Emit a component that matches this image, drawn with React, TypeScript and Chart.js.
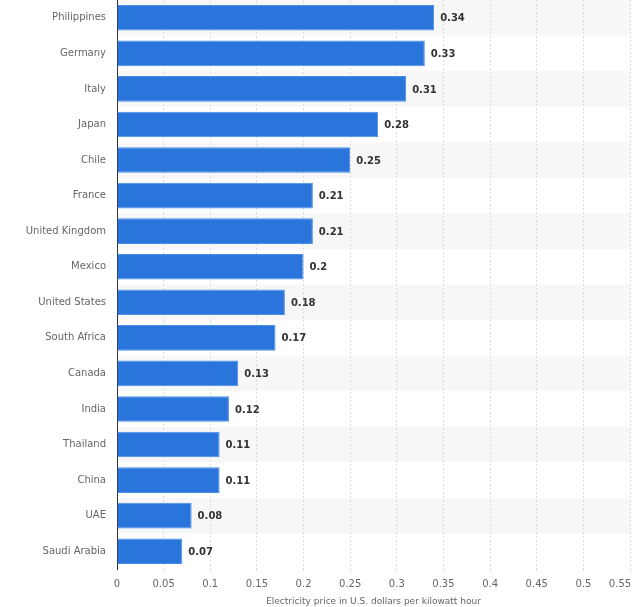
import React, { useEffect, useRef } from "react";
import { Chart, registerables } from "chart.js";

Chart.register(...registerables);

const countries = [
  "Philippines", "Germany", "Italy", "Japan", "Chile", "France", "United Kingdom", "Mexico",
  "United States", "South Africa", "Canada", "India", "Thailand", "China", "UAE", "Saudi Arabia",
];
const prices = [0.34, 0.33, 0.31, 0.28, 0.25, 0.21, 0.21, 0.2, 0.18, 0.17, 0.13, 0.12, 0.11, 0.11, 0.08, 0.07];
const xTicks = [0, 0.05, 0.1, 0.15, 0.2, 0.25, 0.3, 0.35, 0.4, 0.45, 0.5, 0.55];
const axisTitle = "Electricity price in U.S. dollars per kilowatt hour";

const FONT = "'DejaVu Sans', sans-serif";

const bandsPlugin = {
  id: "bands",
  beforeDraw(chart: any) {
    const { ctx, chartArea } = chart;
    const y = chart.scales.y;
    ctx.save();
    ctx.fillStyle = "#f7f7f7";
    const n = countries.length;
    const h = (chartArea.bottom - chartArea.top) / n;
    for (let i = 0; i < n; i += 2) {
      const c = y.getPixelForValue(i);
      ctx.fillRect(chartArea.left, c - h / 2, chartArea.right - chartArea.left, h);
    }
    ctx.restore();
  },
};

const labelsPlugin = {
  id: "valueLabels",
  afterDatasetsDraw(chart: any) {
    const { ctx } = chart;
    const meta = chart.getDatasetMeta(0);
    ctx.save();
    ctx.font = `bold 10px ${FONT}`;
    ctx.fillStyle = "#333333";
    ctx.textAlign = "left";
    ctx.textBaseline = "middle";
    meta.data.forEach((bar: any, i: number) => {
      ctx.fillText(String(prices[i]), bar.x + 6, bar.y + 1);
    });
    ctx.restore();
  },
};

export default function App() {
  const ref = useRef<HTMLCanvasElement>(null);
  useEffect(() => {
    if (!ref.current) return;
    const chart = new Chart(ref.current, {
      type: "bar",
      data: {
        labels: countries,
        datasets: [
          {
            data: prices,
            backgroundColor: "#2a75dc",
            borderColor: "#4a8ee8",
            borderWidth: 1,
            barPercentage: 0.72,
            categoryPercentage: 1,
          },
        ],
      },
      options: {
        indexAxis: "y",
        animation: false,
        responsive: false,
        maintainAspectRatio: false,
        layout: { padding: { top: -2, right: 10, left: 0, bottom: 0 } },
        plugins: { legend: { display: false }, tooltip: { enabled: false } },
        scales: {
          x: {
            type: "linear",
            min: 0,
            max: 0.55,
            afterBuildTicks(scale: any) {
              scale.ticks = xTicks.map((v) => ({ value: v }));
            },
            afterFit(scale: any) {
              scale.paddingLeft = 0;
              scale.paddingRight = 0;
              scale.height = 38;
            },
            grid: {
              color: "#dcdcdc",
              lineWidth: 1,
              drawTicks: true,
              tickLength: 4,
              tickColor: "#dcdcdc",
              tickBorderDash: [2, 2],
            },
            border: { display: false, dash: [2, 2] },
            ticks: {
              padding: 5,
              color: "#666666",
              font: { family: FONT, size: 10 },
              maxRotation: 0,
              autoSkip: false,
              callback(value: any) {
                const v = Number(value);
                if (Math.abs(v - 0.55) < 1e-9) return "0.55\u2003\u2003";
                return String(v);
              },
            },
            title: {
              display: true,
              text: axisTitle,
              color: "#666666",
              font: { family: FONT, size: 9 },
              padding: { top: 2, bottom: 0 },
            },
          },
          y: {
            afterFit(scale: any) {
              scale.width = 117;
              scale.paddingTop = 0;
              scale.paddingBottom = 0;
            },
            grid: { display: false, drawTicks: false },
            border: { display: true, color: "#333333", width: 1 },
            ticks: {
              padding: 11,
              color: "#666666",
              font: { family: FONT, size: 10 },
              autoSkip: false,
            },
          },
        },
      },
      plugins: [bandsPlugin, labelsPlugin],
    });
    return () => chart.destroy();
  }, []);
  return (
    <div style={{ position: "absolute", left: 0, top: 0, width: 640, height: 607, background: "#fff" }}>
      <canvas ref={ref} width={640} height={607} style={{ width: 640, height: 607 }} />
    </div>
  );
}
